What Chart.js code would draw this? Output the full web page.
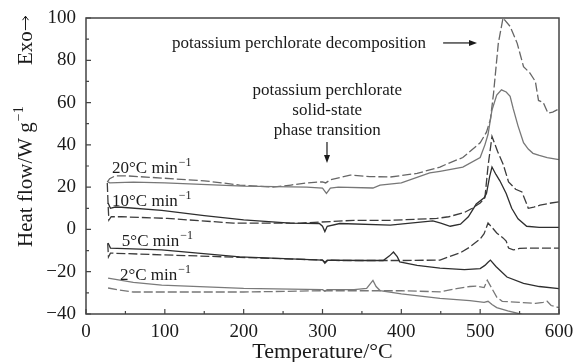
<!DOCTYPE html>
<html>
<head>
<meta charset="utf-8">
<script src="https://cdn.jsdelivr.net/npm/chart.js@4.4.1/dist/chart.umd.min.js"></script>
<style>
  html, body { margin: 0; padding: 0; background: #fff; }
  #box { width: 573px; height: 362px; }
</style>
</head>
<body>
<div id="box"><canvas id="dsc" width="573" height="362"></canvas></div>
<script>
// temperatures (°C) and heat flow (W/g)
const t20s = [28, 30, 60, 100, 200, 280, 300, 305, 310, 320, 364, 373, 400, 436, 449, 478, 500, 506, 510, 515, 521, 527, 533, 538, 542, 548, 555, 561, 567, 575, 585, 600];
const q20s = [22.5, 22, 22.4, 22, 20.5, 20, 19.5, 17, 19.5, 20, 19.6, 21, 22, 26.7, 27.5, 29.5, 34, 40, 45, 56.5, 63.5, 66, 65, 63, 57, 49, 41, 38, 36, 35, 34, 33];
const t20d = [27, 30, 37, 53, 96, 150, 195, 237, 260, 280, 300, 304, 310, 335, 360, 386, 420, 449, 458, 478, 500, 508, 513, 517, 523, 529, 538, 547, 555, 563, 570, 574, 580, 586, 592, 600];
const q20d = [22.4, 24, 25.3, 25.3, 24.3, 23, 21, 20, 21, 22, 22.5, 22, 23.5, 25.7, 25, 24.8, 26.5, 29.5, 31, 34, 41, 46, 52, 64.5, 88, 100, 96, 88, 77, 74, 70, 61, 60, 55, 55.5, 57];
const t10s = [28, 31, 37, 45, 96, 150, 200, 259, 296, 300, 303, 306, 322, 386, 440, 450, 462, 475, 485, 495, 505, 508, 512, 515, 520, 525, 533, 540, 548, 559, 575, 600];
const q10s = [12.5, 10, 10.6, 10.5, 9, 6.5, 4.5, 3, 2.8, 1.5, -1, 1.5, 2.8, 2, 4, 3, 1.5, 2.5, 6, 12, 15, 17, 25, 29.5, 26, 23, 17, 10, 5, 1.5, 1, 1];
const t10d = [27, 28, 29, 32, 45, 103, 187, 272, 340, 386, 445, 460, 480, 490, 500, 506, 510, 515, 522, 529, 536, 545, 553, 558, 561, 568, 576, 590, 600];
const q10d = [22, 12, 4.4, 6, 6, 5.2, 3, 3, 4.3, 4.3, 5.2, 6, 8, 10, 12.5, 15, 30, 44, 37, 31, 22.5, 19, 17.7, 13, 10, 10.5, 11.5, 12.5, 13];
const t5s = [28, 31, 96, 195, 300, 303, 307, 350, 377, 385, 390, 395, 398, 420, 449, 480, 500, 506, 510, 513, 520, 534, 555, 575, 600];
const q5s = [-6.4, -8.8, -9.7, -13, -14.5, -16, -14.5, -14.7, -14.7, -12.5, -10.7, -13, -15.4, -17, -18.3, -19, -18.5, -17, -15.5, -14.5, -17.5, -22.5, -25.5, -27, -28];
const t5d = [27.5, 28.5, 31, 96, 195, 300, 303, 306, 322, 400, 449, 460, 475, 487, 500, 505, 510, 515, 521, 529, 533, 536, 542, 550, 563, 600];
const q5d = [-6.5, -13, -11.2, -12, -13.2, -14.5, -15.5, -14.5, -14.7, -14.7, -14.5, -13, -11, -8.3, -4.5, -2, 3, 1, -1.7, -4, -5.5, -8.8, -9.7, -9, -8.8, -8.8];
const t2s = [28, 60, 96, 200, 300, 303, 306, 340, 356, 360, 364, 368, 373, 400, 449, 487, 505, 510, 515, 521, 535, 551, 560];
const q2s = [-23, -25, -26.3, -27.9, -28.5, -29.2, -28.5, -28.5, -27.9, -26, -24.1, -27, -28.9, -30.5, -32.6, -33.7, -34.5, -34, -35.5, -37, -38.5, -40, -41];
const t2d = [28, 40, 60, 200, 300, 400, 450, 470, 487, 495, 505, 509, 515, 521, 528, 551, 570, 580, 585, 590, 600];
const q2d = [-27.7, -28.5, -29.6, -29.6, -29, -29, -29.5, -28, -27, -26.8, -27.5, -24, -28, -32, -34, -34.5, -35, -34.5, -34, -36, -37];

const rateLabels = ['20°C min', '10°C min', '5°C min', '2°C min'];
const xTicks = [0, 100, 200, 300, 400, 500, 600];
const yTicks = [-40, -20, 0, 20, 40, 60, 80, 100];

const SERIF = "'Liberation Serif', 'Times New Roman', serif";

function pts(t, q) {
    return t.map((v, i) => ({ x: v, y: q[i] }));
}

function serie(t, q, color, dashed) {
    return {
        data: pts(t, q),
        borderColor: color,
        borderWidth: 1.3,
        borderDash: dashed ? [9, 3] : [],
        pointRadius: 0,
        fill: false,
        tension: 0
    };
}

// texto con exponente (se usa para min^-1 y W g^-1)
function textSup(ctx, x, y, main, sup, size) {
    ctx.font = size + 'px ' + SERIF;
    ctx.fillText(main, x, y);
    let w = ctx.measureText(main).width;
    ctx.font = Math.round(size * 0.68) + 'px ' + SERIF;
    ctx.fillText(sup, x + w + 1, y - size * 0.42);
}

function arrowHead(ctx, x, y, dx, dy) {
    // punta rellena en (x,y) apuntando en direccion (dx,dy)
    const L = 8, W = 3;
    ctx.beginPath();
    ctx.moveTo(x, y);
    ctx.lineTo(x - dx * L - dy * W, y - dy * L + dx * W);
    ctx.lineTo(x - dx * L + dy * W, y - dy * L - dx * W);
    ctx.closePath();
    ctx.fill();
}

const decorPlugin = {
    id: 'decor',
    afterDraw(chart) {
        const ctx = chart.ctx;
        const a = chart.chartArea;
        const sx = chart.scales.x, sy = chart.scales.y;
        const px = v => sx.getPixelForValue(v);
        const py = v => sy.getPixelForValue(v);
        ctx.save();

        // marco
        ctx.strokeStyle = '#444';
        ctx.lineWidth = 1.5;
        ctx.strokeRect(a.left, a.top, a.right - a.left, a.bottom - a.top);

        // ticks hacia adentro
        ctx.lineWidth = 1.2;
        ctx.beginPath();
        for (let t = 0; t <= 600; t += 50) {
            const len = t % 100 === 0 ? 5 : 3;
            ctx.moveTo(px(t), a.bottom);
            ctx.lineTo(px(t), a.bottom - len);
        }
        for (let v = -40; v <= 100; v += 10) {
            const len = v % 20 === 0 ? 5 : 3;
            ctx.moveTo(a.left, py(v));
            ctx.lineTo(a.left + len, py(v));
        }
        ctx.stroke();

        ctx.fillStyle = '#1a1a1a';
        ctx.strokeStyle = '#1a1a1a';
        ctx.textBaseline = 'alphabetic';
        ctx.textAlign = 'left';

        // etiquetas de velocidad
        const rates = [[33, 26.7], [33, 11.1], [45.5, -8.0], [43, -24.1]];
        rateLabels.forEach((s, i) => {
            textSup(ctx, px(rates[i][0]), py(rates[i][1]), s, '\u22121', 17);
        });

        // descomposicion
        ctx.font = '17px ' + SERIF;
        ctx.fillText('potassium perchlorate decomposition', px(109), py(86));
        ctx.lineWidth = 1.2;
        ctx.beginPath();
        ctx.moveTo(px(453), py(88.2));
        ctx.lineTo(px(496) - 4, py(88.2));
        ctx.stroke();
        arrowHead(ctx, px(496), py(88.2), 1, 0);

        // transicion de fase
        ctx.textAlign = 'center';
        ctx.fillText('potassium perchlorate', px(306), py(63.6));
        ctx.fillText('solid-state', px(306), py(54.1));
        ctx.fillText('phase transition', px(306), py(44.7));
        ctx.beginPath();
        ctx.moveTo(px(305.7), py(41.3));
        ctx.lineTo(px(305.7), py(31.4) - 4);
        ctx.stroke();
        arrowHead(ctx, px(305.7), py(31.4), 0, 1);

        // titulo eje x
        ctx.font = '22px ' + SERIF;
        ctx.fillText('Temperature/°C', (a.left + a.right) / 2, 358);

        // titulo eje y (rotado)
        ctx.save();
        ctx.translate(32, 247);
        ctx.rotate(-Math.PI / 2);
        ctx.textAlign = 'left';
        textSup(ctx, 0, 0, 'Heat flow/W g', '\u22121', 21);
        ctx.font = '21px ' + SERIF;
        ctx.fillText('Exo', 182, 0);
        const we = ctx.measureText('Exo').width;
        ctx.lineWidth = 1;
        ctx.beginPath();
        ctx.moveTo(182 + we + 1, -6.5);
        ctx.lineTo(182 + we + 15, -6.5);
        ctx.moveTo(182 + we + 11, -9.5);
        ctx.lineTo(182 + we + 15, -6.5);
        ctx.lineTo(182 + we + 11, -3.5);
        ctx.stroke();
        ctx.restore();

        ctx.restore();
    }
};

new Chart(document.getElementById('dsc'), {
    type: 'line',
    data: {
        datasets: [
            serie(t20s, q20s, '#777', false),
            serie(t20d, q20d, '#666', true),
            serie(t10s, q10s, '#2e2e2e', false),
            serie(t10d, q10d, '#3c3c3c', true),
            serie(t5s, q5s, '#2e2e2e', false),
            serie(t5d, q5d, '#3c3c3c', true),
            serie(t2s, q2s, '#7a7a7a', false),
            serie(t2d, q2d, '#777', true)
        ]
    },
    options: {
        responsive: false,
        animation: false,
        devicePixelRatio: 1,
        layout: { padding: { top: 18, right: 14, left: 0, bottom: 0 } },
        scales: {
            x: {
                type: 'linear',
                min: 0,
                max: 600,
                afterBuildTicks: s => { s.ticks = xTicks.map(v => ({ value: v })); },
                afterFit: s => { s.height = 48; s.paddingLeft = 0; s.paddingRight = 0; },
                grid: { display: false, drawTicks: false },
                border: { display: false },
                ticks: {
                    padding: 7,
                    color: '#1a1a1a',
                    font: { family: SERIF, size: 19 }
                }
            },
            y: {
                min: -40,
                max: 100,
                afterBuildTicks: s => { s.ticks = yTicks.map(v => ({ value: v })); },
                afterFit: s => { s.width = 86; s.paddingTop = 0; s.paddingBottom = 0; },
                grid: { display: false, drawTicks: false },
                border: { display: false },
                ticks: {
                    padding: 10,
                    color: '#1a1a1a',
                    font: { family: SERIF, size: 19 },
                    callback: v => String(v).replace('-', '\u2212')
                }
            }
        },
        plugins: {
            legend: { display: false },
            tooltip: { enabled: false }
        }
    },
    plugins: [decorPlugin]
});
</script>
</body>
</html>
